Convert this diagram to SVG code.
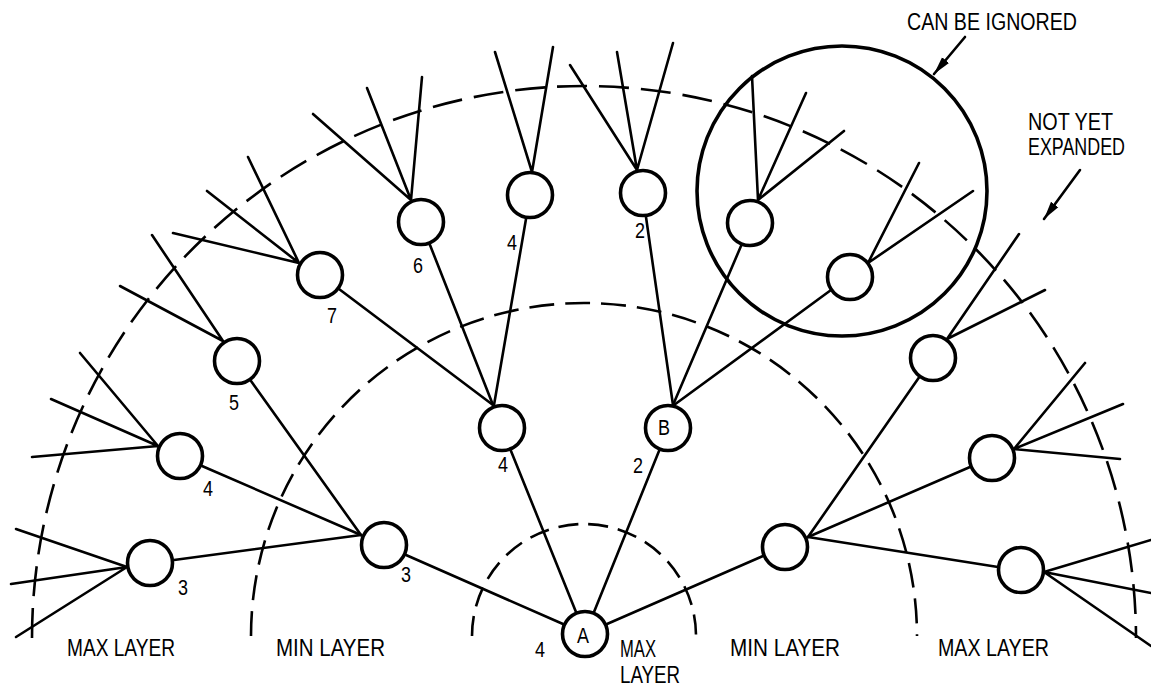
<svg xmlns="http://www.w3.org/2000/svg" width="1151" height="686" viewBox="0 0 1151 686">
<style>
.arc{fill:none;stroke:#000;stroke-width:2.6}
.c{stroke:#000;stroke-width:2.6;fill:none;stroke-linecap:round}
.n{fill:#fff;stroke:#000;stroke-width:3.6}
.t{font-family:"Liberation Sans",Arial,sans-serif;font-size:23px;fill:#000}
.s{font-family:"Liberation Sans",Arial,sans-serif;font-size:22px;fill:#000}
</style>
<defs>
<marker id="ah" markerWidth="20" markerHeight="12" refX="18" refY="5" orient="auto" markerUnits="userSpaceOnUse"><path d="M0,0.5 L18,5 L0,9.5 Z" fill="#000"/></marker>
</defs>
<rect width="1151" height="686" fill="#fff"/>
<g id="layers">
<path class="arc" d="M472,636 A112,112 0 0 1 696,636" stroke-dasharray="20 10"/>
<path class="arc" d="M251,636 A333,333 0 0 1 917,636" stroke-dasharray="25 11"/>
<path class="arc" d="M32,638 A552,552 0 0 1 1136,638" stroke-dasharray="30 12"/>
</g>
<g id="connectors">
<line class="c" x1="406" y1="555" x2="563" y2="624"/>
<line class="c" x1="511" y1="451" x2="576" y2="612"/>
<line class="c" x1="659" y1="451" x2="594" y2="612"/>
<line class="c" x1="763" y1="556" x2="607" y2="624"/>
<line class="c" x1="174" y1="560" x2="361" y2="535"/>
<line class="c" x1="202" y1="466" x2="361" y2="535"/>
<line class="c" x1="251" y1="381" x2="361" y2="535"/>
<line class="c" x1="339" y1="289" x2="493" y2="405"/>
<line class="c" x1="430" y1="245" x2="493" y2="405"/>
<line class="c" x1="526" y1="219" x2="494" y2="405"/>
<line class="c" x1="646" y1="217" x2="673" y2="405"/>
<line class="c" x1="741" y1="246" x2="673" y2="405"/>
<line class="c" x1="831" y1="290" x2="674" y2="405"/>
<line class="c" x1="920" y1="376" x2="808" y2="537"/>
<line class="c" x1="970" y1="467" x2="808" y2="537"/>
<line class="c" x1="998" y1="567" x2="808" y2="537"/>
<!-- leaves -->
<path class="c" d="M127,567 L16,529 M127,567 L11,584 M127,567 L16,637"/>
<path class="c" d="M158,446 L80,353 M158,446 L51,399 M158,446 L32,457"/>
<path class="c" d="M223,341 L152,235 M223,341 L120,286"/>
<path class="c" d="M299,263 L248,157 M299,263 L207,191 M299,263 L173,233"/>
<path class="c" d="M411,200 L313,114 M411,200 L367,88 M411,200 L422,77"/>
<path class="c" d="M532,172 L495,52 M532,172 L553,47"/>
<path class="c" d="M637,170 L570,65 M637,170 L617,52 M637,170 L673,43"/>
<path class="c" d="M758,200 L752,76 M758,200 L806,93 M758,200 L844,131"/>
<path class="c" d="M868,263 L919,163 M868,263 L973,191"/>
<path class="c" d="M947,339 L1019,234 M947,339 L1045,290"/>
<path class="c" d="M1014,449 L1085,363 M1014,449 L1123,404 M1014,449 L1120,459"/>
<path class="c" d="M1044,572 L1151,540 M1044,572 L1151,593 M1044,572 L1151,646"/>
</g>
<g id="ignored">
<circle cx="842" cy="191" r="145" fill="none" stroke="#000" stroke-width="3.6"/>
</g>
<g id="nA"><circle class="n" cx="585" cy="634" r="22.5"/><text class="s" x="577" y="643" textLength="12" lengthAdjust="spacingAndGlyphs">A</text></g>
<g id="nMinL"><circle class="n" cx="384" cy="545" r="22.5"/></g>
<g id="nMinM"><circle class="n" cx="502" cy="428" r="22.5"/></g>
<g id="nB"><circle class="n" cx="668" cy="428" r="22.5"/><text class="s" x="658" y="435" font-size="19" textLength="12" lengthAdjust="spacingAndGlyphs">B</text></g>
<g id="nMinR"><circle class="n" cx="785" cy="547" r="22.5"/></g>
<g id="nL3"><circle class="n" cx="150" cy="563" r="22.5"/></g>
<g id="nL4"><circle class="n" cx="180" cy="456" r="22.5"/></g>
<g id="nL5"><circle class="n" cx="237" cy="361" r="22.5"/></g>
<g id="nL7"><circle class="n" cx="320" cy="275" r="22.5"/></g>
<g id="nL6"><circle class="n" cx="421" cy="222" r="22.5"/></g>
<g id="nT4"><circle class="n" cx="530" cy="195" r="22.5"/></g>
<g id="nT2"><circle class="n" cx="643" cy="193" r="22.5"/></g>
<g id="nC1"><circle class="n" cx="750" cy="223" r="22.5"/></g>
<g id="nC2"><circle class="n" cx="850" cy="277" r="22.5"/></g>
<g id="nR1"><circle class="n" cx="933" cy="358" r="22.5"/></g>
<g id="nR2"><circle class="n" cx="992" cy="458" r="22.5"/></g>
<g id="nR3"><circle class="n" cx="1021" cy="570" r="22.5"/></g>
<g id="values">
<text class="s" x="178" y="595" textLength="10" lengthAdjust="spacingAndGlyphs">3</text>
<text class="s" x="203" y="496" textLength="10" lengthAdjust="spacingAndGlyphs">4</text>
<text class="s" x="229" y="410" textLength="10" lengthAdjust="spacingAndGlyphs">5</text>
<text class="s" x="327" y="323" textLength="10" lengthAdjust="spacingAndGlyphs">7</text>
<text class="s" x="413" y="273" textLength="10" lengthAdjust="spacingAndGlyphs">6</text>
<text class="s" x="507" y="250" textLength="10" lengthAdjust="spacingAndGlyphs">4</text>
<text class="s" x="635" y="238" textLength="10" lengthAdjust="spacingAndGlyphs">2</text>
<text class="s" x="401" y="582" textLength="10" lengthAdjust="spacingAndGlyphs">3</text>
<text class="s" x="498" y="472" textLength="10" lengthAdjust="spacingAndGlyphs">4</text>
<text class="s" x="633" y="473" textLength="10" lengthAdjust="spacingAndGlyphs">2</text>
<text class="s" x="535" y="657" textLength="10" lengthAdjust="spacingAndGlyphs">4</text>
</g>
<g id="labels">
<text class="t" x="67" y="656" textLength="108" lengthAdjust="spacingAndGlyphs">MAX LAYER</text>
<text class="t" x="276" y="656" textLength="109" lengthAdjust="spacingAndGlyphs">MIN LAYER</text>
<text class="t" x="620" y="657" textLength="36" lengthAdjust="spacingAndGlyphs">MAX</text>
<text class="t" x="620" y="683" textLength="60" lengthAdjust="spacingAndGlyphs">LAYER</text>
<text class="t" x="730" y="656" textLength="110" lengthAdjust="spacingAndGlyphs">MIN LAYER</text>
<text class="t" x="938" y="656" textLength="111" lengthAdjust="spacingAndGlyphs">MAX LAYER</text>
<text class="t" x="907" y="30" textLength="170" lengthAdjust="spacingAndGlyphs">CAN BE IGNORED</text>
<text class="t" x="1028" y="130" textLength="85" lengthAdjust="spacingAndGlyphs">NOT YET</text>
<text class="t" x="1028" y="155" textLength="97" lengthAdjust="spacingAndGlyphs">EXPANDED</text>
</g>
<g id="arrows">
<line class="c" x1="965" y1="37" x2="934" y2="74" marker-end="url(#ah)"/>
<line class="c" x1="1080" y1="170" x2="1044" y2="219" marker-end="url(#ah)"/>
</g>
</svg>
